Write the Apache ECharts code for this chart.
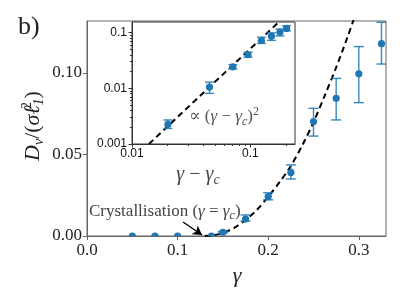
<!DOCTYPE html>
<html>
<head>
<meta charset="utf-8">
<script src="https://cdn.jsdelivr.net/npm/echarts@6/dist/echarts.min.js"></script>
<style>
html,body{margin:0;padding:0;background:#fff;}
#c{width:407px;height:305px;}
</style>
</head>
<body>
<div id="c"></div>
<script>
// ---- main panel data ----
const mainGamma = [0.05, 0.075, 0.1, 0.1375, 0.15, 0.175, 0.2, 0.225, 0.25, 0.275, 0.3, 0.325];
const mainD     = [0, 0, 0, 0, 0.0023, 0.0104, 0.0242, 0.039, 0.0702, 0.0845, 0.0995, 0.118];
const mainLow   = [0, 0, 0, 0, 0.0018, 0.0092, 0.0222, 0.035, 0.0613, 0.0712, 0.0818, 0.1055];
const mainHigh  = [0, 0, 0, 0, 0.0028, 0.0129, 0.0265, 0.0436, 0.0783, 0.0967, 0.1162, 0.1311];
// dashed fit curve
const fitGamma  = [0.13, 0.14, 0.15, 0.1625, 0.175, 0.1875, 0.2, 0.2125, 0.225, 0.2375, 0.25, 0.2625, 0.275, 0.2875, 0.2958];
const fitD      = [0, 0.0005, 0.0019, 0.005, 0.0099, 0.016, 0.0241, 0.033, 0.043, 0.0555, 0.0698, 0.0863, 0.1034, 0.122, 0.1352];
// ---- inset (log-log) data ----
const insetX    = [0.0201, 0.0451, 0.0711, 0.0955, 0.124, 0.1505, 0.1775, 0.202];
const insetY    = [0.00225, 0.0105, 0.0242, 0.040, 0.072, 0.0862, 0.101, 0.119];
const insetLow  = [0.0019, 0.0081, 0.0224, 0.0362, 0.064, 0.0725, 0.087, 0.108];
const insetHigh = [0.0027, 0.0129, 0.0266, 0.0445, 0.0824, 0.099, 0.116, 0.132];
const insetFitX = [0.0139, 0.045, 0.174];
const insetFitY = [0.001, 0.0105, 0.155];
// ---- ticks ----
const mainXTicks = [0, 0.1, 0.2, 0.3];
const mainYTicks = [0, 0.05, 0.10];
const insetXMajor = [0.01, 0.1];
const insetXMinor = [0.02, 0.03, 0.04, 0.05, 0.06, 0.07, 0.08, 0.09, 0.2];
const insetYMajor = [0.001, 0.01, 0.1];
const insetYMinor = [0.002, 0.003, 0.004, 0.005, 0.006, 0.007, 0.008, 0.009,
                     0.02, 0.03, 0.04, 0.05, 0.06, 0.07, 0.08, 0.09];

const BLUE = '#1f77b4';
const SERIF = '"Liberation Serif", "DejaVu Serif", serif';
const SANS = '"Liberation Sans", Arial, sans-serif';

function zip(a, b) { return a.map((v, i) => [v, b[i]]); }
function errData(x, lo, hi) {
  const out = [];
  x.forEach((v, i) => { if (hi[i] > lo[i]) out.push([v, lo[i], hi[i]]); });
  return out;
}
function errRender(cap) {
  return function (params, api) {
    const x = api.value(0), lo = api.value(1), hi = api.value(2);
    const a = api.coord([x, lo]), b = api.coord([x, hi]);
    const st = { stroke: BLUE, lineWidth: 1.4, opacity: 0.88 };
    return {
      type: 'group',
      children: [
        { type: 'line', shape: { x1: a[0], y1: a[1], x2: b[0], y2: b[1] }, style: st },
        { type: 'line', shape: { x1: a[0] - cap, y1: a[1], x2: a[0] + cap, y2: a[1] }, style: st },
        { type: 'line', shape: { x1: b[0] - cap, y1: b[1], x2: b[0] + cap, y2: b[1] }, style: st }
      ]
    };
  };
}
function dotRender(r) {
  return function (params, api) {
    const p = api.coord([api.value(0), api.value(1)]);
    return { type: 'circle', shape: { cx: p[0], cy: p[1], r: r }, style: { fill: BLUE } };
  };
}

const chart = echarts.init(document.getElementById('c'), null, { renderer: 'canvas' });

const axisLineMain = { show: true, lineStyle: { color: '#666', width: 1 } };
const axisLineInset = { show: true, lineStyle: { color: '#333', width: 1 } };

const option = {
  animation: false,
  backgroundColor: '#fff',
  grid: [
    { left: 87, top: 21, width: 299, height: 215, show: true, borderColor: '#666', borderWidth: 1, backgroundColor: 'transparent' },
    { left: 132, top: 22, width: 163, height: 122, show: true, borderColor: '#333', borderWidth: 1, backgroundColor: '#fff', z: 5 }
  ],
  xAxis: [
    { gridIndex: 0, type: 'value', min: 0, max: 0.33,
      axisLine: axisLineMain,
      axisTick: { show: true, length: 4, lineStyle: { color: '#666' }, customValues: mainXTicks },
      axisLabel: { customValues: mainXTicks, formatter: v => v.toFixed(1), fontFamily: SERIF, fontSize: 17, color: '#222', margin: 6 },
      splitLine: { show: false } },
    { gridIndex: 1, type: 'log', logBase: 10, min: 0.01, max: 0.238, z: 6,
      axisLine: axisLineInset,
      axisTick: { show: true, length: 3.5, lineStyle: { color: '#333' }, customValues: insetXMajor },
      axisLabel: { customValues: insetXMajor, formatter: v => String(+v.toPrecision(3)), fontFamily: SANS, fontSize: 12, color: '#111', margin: 4 },
      splitLine: { show: false } },
    { gridIndex: 1, type: 'log', logBase: 10, min: 0.01, max: 0.238, position: 'bottom', z: 6,
      axisLine: { show: false },
      axisTick: { show: true, length: 2, lineStyle: { color: '#333' }, customValues: insetXMinor },
      axisLabel: { show: false },
      splitLine: { show: false } }
  ],
  yAxis: [
    { gridIndex: 0, type: 'value', min: 0, max: 0.1319,
      axisLine: axisLineMain,
      axisTick: { show: true, length: 4, lineStyle: { color: '#666' }, customValues: mainYTicks },
      axisLabel: { customValues: mainYTicks, formatter: v => v.toFixed(2), fontFamily: SERIF, fontSize: 17, color: '#222', margin: 5 },
      splitLine: { show: false } },
    { gridIndex: 1, type: 'log', logBase: 10, min: 0.001, max: 0.155, z: 6,
      axisLine: axisLineInset,
      axisTick: { show: true, length: 3.5, lineStyle: { color: '#333' }, customValues: insetYMajor },
      axisLabel: { customValues: insetYMajor, formatter: v => String(+v.toPrecision(3)), fontFamily: SANS, fontSize: 12, color: '#111', margin: 5 },
      splitLine: { show: false } },
    { gridIndex: 1, type: 'log', logBase: 10, min: 0.001, max: 0.155, position: 'left', z: 6,
      axisLine: { show: false },
      axisTick: { show: true, length: 2, lineStyle: { color: '#333' }, customValues: insetYMinor },
      axisLabel: { show: false },
      splitLine: { show: false } }
  ],
  series: [
    { type: 'line', xAxisIndex: 0, yAxisIndex: 0, data: zip(fitGamma, fitD),
      showSymbol: false, smooth: 0.3, z: 3, clip: true,
      lineStyle: { color: '#000', width: 2, type: [6, 4] },
      markLine: {
        silent: true, symbol: ['none', 'arrow'], symbolSize: [8, 9],
        label: { show: false },
        lineStyle: { color: '#000', width: 1.4, type: 'solid' },
        data: [[{ coord: [0.106, 0.0086] }, { coord: [0.127, 0.0006] }]]
      } },
    { type: 'custom', xAxisIndex: 0, yAxisIndex: 0, renderItem: errRender(5),
      data: errData(mainGamma, mainLow, mainHigh), encode: { x: 0, y: [1, 2] }, z: 4, clip: true },
    { type: 'custom', xAxisIndex: 0, yAxisIndex: 0, renderItem: dotRender(3.6),
      data: zip(mainGamma, mainD), encode: { x: 0, y: 1 }, z: 5, clip: true },

    { type: 'line', xAxisIndex: 1, yAxisIndex: 1, data: zip(insetFitX, insetFitY),
      showSymbol: false, z: 10, clip: true,
      lineStyle: { color: '#000', width: 2, type: [6, 4] } },
    { type: 'custom', xAxisIndex: 1, yAxisIndex: 1, renderItem: errRender(4.5),
      data: errData(insetX, insetLow, insetHigh), encode: { x: 0, y: [1, 2] }, z: 11, clip: true },
    { type: 'custom', xAxisIndex: 1, yAxisIndex: 1, renderItem: dotRender(3.6),
      data: zip(insetX, insetY), encode: { x: 0, y: 1 }, z: 12 }
  ],
  graphic: [
    { type: 'text', left: 18, top: 14, z: 100,
      style: { text: 'b)', font: '26px ' + SERIF, fill: '#222' } },
    { type: 'text', x: 33, y: 126, rotation: Math.PI / 2, z: 100,
      style: {
        text: '{i|D}{s|v}{n|/(}{i|σ}{i|ℓ}{p|2}{s|1}{n|)}',
        align: 'center', verticalAlign: 'middle', textAlign: 'center', textVerticalAlign: 'middle',
        fill: '#222',
        rich: {
          i: { fontFamily: SERIF, fontStyle: 'italic', fontSize: 22, lineHeight: 26 },
          n: { fontFamily: SERIF, fontSize: 22, lineHeight: 26 },
          s: { fontFamily: SERIF, fontStyle: 'italic', fontSize: 14, lineHeight: 10, verticalAlign: 'bottom' },
          p: { fontFamily: SERIF, fontSize: 14, lineHeight: 12, verticalAlign: 'top', width: 0 }
        }
      } },
    { type: 'text', x: 237, y: 276, z: 100,
      style: { text: 'γ', font: 'italic 22px ' + SERIF, fill: '#222', align: 'center', verticalAlign: 'middle', textAlign: 'center', textVerticalAlign: 'middle' } },
    { type: 'text', x: 198, y: 175, z: 100,
      style: {
        text: '{i|γ}{n| − }{i|γ}{s|c}',
        align: 'center', verticalAlign: 'middle', textAlign: 'center', textVerticalAlign: 'middle',
        fill: '#444',
        rich: {
          i: { fontFamily: SERIF, fontStyle: 'italic', fontSize: 20, lineHeight: 24 },
          n: { fontFamily: SERIF, fontSize: 20, lineHeight: 24 },
          s: { fontFamily: SERIF, fontStyle: 'italic', fontSize: 14, lineHeight: 10, verticalAlign: 'bottom' }
        }
      } },
    { type: 'text', x: 224, y: 117, z: 100,
      style: {
        text: '{n|∝ (}{i|γ}{n| − }{i|γ}{s|c}{n|)}{p|2}',
        align: 'center', verticalAlign: 'middle', textAlign: 'center', textVerticalAlign: 'middle',
        fill: '#555',
        rich: {
          i: { fontFamily: SERIF, fontStyle: 'italic', fontSize: 17, lineHeight: 22 },
          n: { fontFamily: SERIF, fontSize: 17, lineHeight: 22 },
          s: { fontFamily: SERIF, fontStyle: 'italic', fontSize: 12, lineHeight: 8, verticalAlign: 'bottom' },
          p: { fontFamily: SERIF, fontSize: 12, lineHeight: 10, verticalAlign: 'top' }
        }
      } },
    { type: 'text', x: 89, y: 212, z: 100,
      style: {
        text: '{n|Crystallisation (}{i|γ}{n| = }{i|γ}{s|c}{n|)}',
        align: 'left', verticalAlign: 'middle', textAlign: 'left', textVerticalAlign: 'middle',
        fill: '#444',
        rich: {
          i: { fontFamily: SERIF, fontStyle: 'italic', fontSize: 17, lineHeight: 20 },
          n: { fontFamily: SERIF, fontSize: 17, lineHeight: 20 },
          s: { fontFamily: SERIF, fontStyle: 'italic', fontSize: 12, lineHeight: 8, verticalAlign: 'bottom' }
        }
      } }
  ]
};
chart.setOption(option);
</script>
</body>
</html>
